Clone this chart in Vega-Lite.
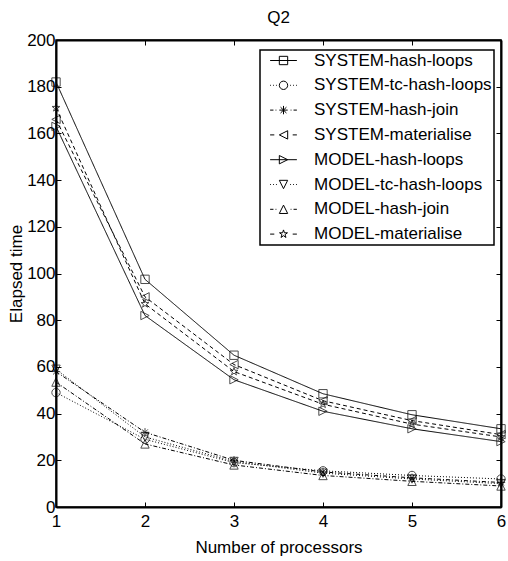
{
  "$schema": "https://vega.github.io/schema/vega-lite/v6.json",
  "width": 445,
  "height": 467,
  "padding": {"left": 7, "top": 9, "right": 0, "bottom": 5},
  "background": "white",
  "title": {"text": "Q2", "font": "Liberation Sans", "fontSize": 17, "fontWeight": "normal", "color": "black", "offset": 4},
  "config": {
    "view": {"stroke": "black", "strokeWidth": 1.5},
    "axis": {
      "grid": false,
      "domainColor": "black",
      "domainWidth": 2,
      "tickColor": "black",
      "tickWidth": 1,
      "tickSize": -5,
      "labelFont": "Liberation Sans",
      "labelFontSize": 17,
      "labelColor": "black",
      "titleFont": "Liberation Sans",
      "titleFontSize": 17,
      "titleFontWeight": "normal",
      "titleColor": "black",
      "labelFlush": false
    }
  },
  "datasets": {
    "times": [
      {"series": "SYSTEM-hash-loops", "processors": 1, "time": 182},
      {"series": "SYSTEM-hash-loops", "processors": 2, "time": 97.5},
      {"series": "SYSTEM-hash-loops", "processors": 3, "time": 65},
      {"series": "SYSTEM-hash-loops", "processors": 4, "time": 48.5},
      {"series": "SYSTEM-hash-loops", "processors": 5, "time": 39.5},
      {"series": "SYSTEM-hash-loops", "processors": 6, "time": 33.5},
      {"series": "SYSTEM-tc-hash-loops", "processors": 1, "time": 49},
      {"series": "SYSTEM-tc-hash-loops", "processors": 2, "time": 29},
      {"series": "SYSTEM-tc-hash-loops", "processors": 3, "time": 19},
      {"series": "SYSTEM-tc-hash-loops", "processors": 4, "time": 15.5},
      {"series": "SYSTEM-tc-hash-loops", "processors": 5, "time": 13.5},
      {"series": "SYSTEM-tc-hash-loops", "processors": 6, "time": 12},
      {"series": "SYSTEM-hash-join", "processors": 1, "time": 58},
      {"series": "SYSTEM-hash-join", "processors": 2, "time": 32},
      {"series": "SYSTEM-hash-join", "processors": 3, "time": 20},
      {"series": "SYSTEM-hash-join", "processors": 4, "time": 15},
      {"series": "SYSTEM-hash-join", "processors": 5, "time": 12.5},
      {"series": "SYSTEM-hash-join", "processors": 6, "time": 10.5},
      {"series": "SYSTEM-materialise", "processors": 1, "time": 166},
      {"series": "SYSTEM-materialise", "processors": 2, "time": 90},
      {"series": "SYSTEM-materialise", "processors": 3, "time": 61},
      {"series": "SYSTEM-materialise", "processors": 4, "time": 45.5},
      {"series": "SYSTEM-materialise", "processors": 5, "time": 37},
      {"series": "SYSTEM-materialise", "processors": 6, "time": 31},
      {"series": "MODEL-hash-loops", "processors": 1, "time": 163},
      {"series": "MODEL-hash-loops", "processors": 2, "time": 82},
      {"series": "MODEL-hash-loops", "processors": 3, "time": 54.5},
      {"series": "MODEL-hash-loops", "processors": 4, "time": 41},
      {"series": "MODEL-hash-loops", "processors": 5, "time": 33.5},
      {"series": "MODEL-hash-loops", "processors": 6, "time": 28},
      {"series": "MODEL-tc-hash-loops", "processors": 1, "time": 59},
      {"series": "MODEL-tc-hash-loops", "processors": 2, "time": 30},
      {"series": "MODEL-tc-hash-loops", "processors": 3, "time": 19.5},
      {"series": "MODEL-tc-hash-loops", "processors": 4, "time": 14.5},
      {"series": "MODEL-tc-hash-loops", "processors": 5, "time": 12},
      {"series": "MODEL-tc-hash-loops", "processors": 6, "time": 10},
      {"series": "MODEL-hash-join", "processors": 1, "time": 53.5},
      {"series": "MODEL-hash-join", "processors": 2, "time": 27},
      {"series": "MODEL-hash-join", "processors": 3, "time": 18},
      {"series": "MODEL-hash-join", "processors": 4, "time": 13.5},
      {"series": "MODEL-hash-join", "processors": 5, "time": 11},
      {"series": "MODEL-hash-join", "processors": 6, "time": 9},
      {"series": "MODEL-materialise", "processors": 1, "time": 171},
      {"series": "MODEL-materialise", "processors": 2, "time": 87},
      {"series": "MODEL-materialise", "processors": 3, "time": 58},
      {"series": "MODEL-materialise", "processors": 4, "time": 44},
      {"series": "MODEL-materialise", "processors": 5, "time": 35.5},
      {"series": "MODEL-materialise", "processors": 6, "time": 30}
    ]
  },
  "data": {"name": "times"},
  "resolve": {"axis": {"x": "independent", "y": "independent"}},
  "layer": [
    {
      "mark": {"type": "line", "strokeWidth": 1},
      "encoding": {
        "x": {"field": "processors", "type": "quantitative", "scale": {"domain": [1, 6], "nice": false, "zero": false},
              "axis": {"values": [1, 2, 3, 4, 5, 6], "title": "Number of processors", "labelPadding": 11, "titlePadding": 10}},
        "y": {"field": "time", "type": "quantitative", "scale": {"domain": [0, 200], "nice": false},
              "axis": {"values": [0, 20, 40, 60, 80, 100, 120, 140, 160, 180, 200], "title": "Elapsed time", "labelPadding": 6, "titlePadding": 1}},
        "color": {"field": "series", "type": "nominal",
          "scale": {"domain": ["SYSTEM-hash-loops", "SYSTEM-tc-hash-loops", "SYSTEM-hash-join", "SYSTEM-materialise", "MODEL-hash-loops", "MODEL-tc-hash-loops", "MODEL-hash-join", "MODEL-materialise"],
                    "range": ["black", "black", "black", "black", "black", "black", "black", "black"]},
          "legend": {
            "title": null,
            "orient": "none",
            "legendX": 204,
            "legendY": 10,
            "padding": 2,
            "rowPadding": 6.8,
            "symbolOffset": 13,
            "labelOffset": 22,
            "symbolSize": 70,
            "symbolStrokeWidth": 1,
            "labelFont": "Liberation Sans",
            "labelFontSize": 17,
            "labelColor": "black",
            "labelLimit": 300,
            "strokeColor": "black",
            "fillColor": "white",
            "encode": {
              "legend": {"update": {"strokeWidth": {"value": 1.5}}},
              "symbols": {"update": {
                "fill": {"value": "transparent"},
                "strokeWidth": {"value": 1},
                "shape": {"signal": "datum.value === 'SYSTEM-hash-loops' ? 'M-3.2,0H3.2M-1,-1H1V1H-1Z' : datum.value === 'SYSTEM-tc-hash-loops' ? 'M-3.2,0H-3M-2.5,0H-2.3M-1.8,0H-1.6M1.6,0H1.8M2.3,0H2.5M3,0H3.2M-1,0A1,1 0 1,0 1,0A1,1 0 1,0 -1,0Z' : datum.value === 'SYSTEM-hash-join' ? 'M-3.2,0H-2.4M-1.9,0H-1.7M1.7,0H1.9M2.4,0H3.2M-1,0H1M0,-1V1M-0.7,-0.7L0.7,0.7M-0.7,0.7L0.7,-0.7' : datum.value === 'SYSTEM-materialise' ? 'M-3.2,0H-2.2M2.2,0H3.2M-1,0L1,-1L1,1Z' : datum.value === 'MODEL-hash-loops' ? 'M-3.2,0H3.2M1,0L-1,-1L-1,1Z' : datum.value === 'MODEL-tc-hash-loops' ? 'M-3.2,0H-3M-2.5,0H-2.3M-1.8,0H-1.6M1.6,0H1.8M2.3,0H2.5M3,0H3.2M-1,-1L1,-1L0,1Z' : datum.value === 'MODEL-hash-join' ? 'M-3.2,0H-2.4M-1.9,0H-1.7M1.7,0H1.9M2.4,0H3.2M0,-1L1,1L-1,1Z' : 'M-3.2,0H-2.2M2.2,0H3.2M0,-1L0.225,-0.309L0.951,-0.309L0.363,0.118L0.588,0.809L0,0.382L-0.588,0.809L-0.363,0.118L-0.951,-0.309L-0.225,-0.309Z'"}
              }}
            }
          }},
        "strokeDash": {"field": "series", "type": "nominal", "legend": null,
          "scale": {"domain": ["MODEL-materialise", "MODEL-hash-join", "MODEL-tc-hash-loops", "MODEL-hash-loops", "SYSTEM-materialise", "SYSTEM-hash-join", "SYSTEM-tc-hash-loops", "SYSTEM-hash-loops"],
                    "range": [[4, 3], [4, 2, 1, 2], [1, 2], [1, 0], [4, 3], [4, 2, 1, 2], [1, 2], [1, 0]]}}
      }
    },
    {
      "mark": {"type": "point", "filled": false, "color": "black", "strokeWidth": 1, "size": 70},
      "encoding": {
        "x": {"field": "processors", "type": "quantitative", "axis": null},
        "y": {"field": "time", "type": "quantitative", "axis": null},
        "shape": {"field": "series", "type": "nominal", "legend": null,
          "scale": {"domain": ["MODEL-materialise", "MODEL-hash-join", "MODEL-tc-hash-loops", "MODEL-hash-loops", "SYSTEM-materialise", "SYSTEM-hash-join", "SYSTEM-tc-hash-loops", "SYSTEM-hash-loops"],
                    "range": ["M0,-1L0.225,-0.309L0.951,-0.309L0.363,0.118L0.588,0.809L0,0.382L-0.588,0.809L-0.363,0.118L-0.951,-0.309L-0.225,-0.309Z", "M0,-1L1,1L-1,1Z", "M-1,-1L1,-1L0,1Z", "M1,0L-1,-1L-1,1Z", "M-1,0L1,-1L1,1Z", "M-1,0H1M0,-1V1M-0.7,-0.7L0.7,0.7M-0.7,0.7L0.7,-0.7", "M-1,0A1,1 0 1,0 1,0A1,1 0 1,0 -1,0Z", "M-1,-1H1V1H-1Z"]}}
      }
    },
    {
      "mark": {"type": "point", "opacity": 0},
      "encoding": {
        "x": {"field": "processors", "type": "quantitative",
              "axis": {"orient": "top", "values": [1, 2, 3, 4, 5, 6], "labels": false, "title": null}},
        "y": {"field": "time", "type": "quantitative",
              "axis": {"orient": "right", "values": [0, 20, 40, 60, 80, 100, 120, 140, 160, 180, 200], "labels": false, "title": null}}
      }
    }
  ]
}
